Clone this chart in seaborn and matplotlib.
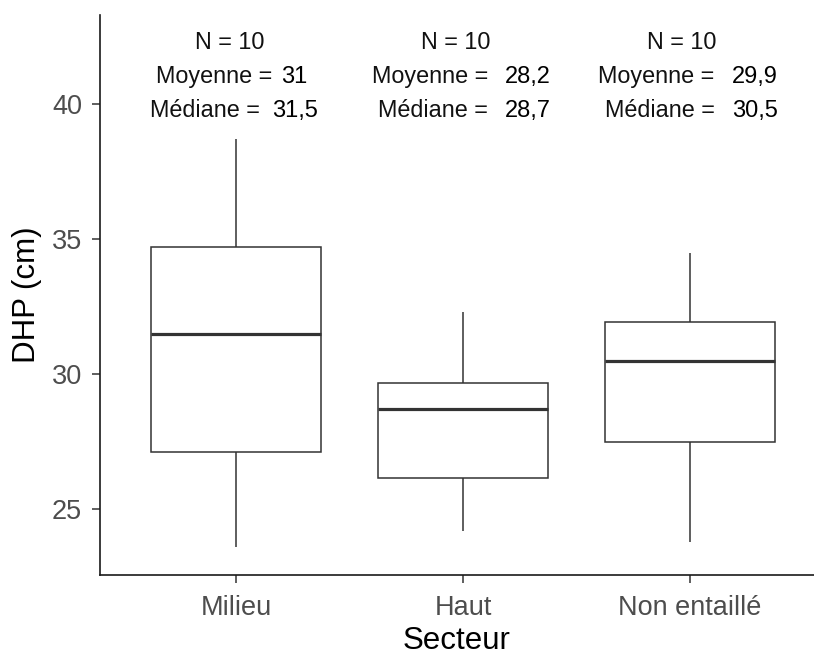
import numpy as np
import pandas as pd
import seaborn as sns
import matplotlib
matplotlib.use("Agg")
import matplotlib.pyplot as plt

# Diamètre à hauteur de poitrine (cm) par secteur d'entaille
secteurs = ["Milieu", "Haut", "Non entaillé"]
dhp_milieu = [23.6, 25.0, 26.8, 28.0, 31.0, 32.0, 34.4, 34.8, 35.7, 38.7]
dhp_haut = [24.2, 25.5, 26.0, 26.6, 28.4, 29.0, 29.6, 29.7, 30.7, 32.3]
dhp_non_entaille = [23.8, 27.0, 27.3, 28.1, 30.2, 30.8, 31.7, 32.0, 33.6, 34.5]

df = pd.DataFrame({
    "Secteur": np.repeat(secteurs, 10),
    "DHP": dhp_milieu + dhp_haut + dhp_non_entaille,
})

sns.set_theme(style="ticks")
plt.rcParams["font.family"] = ["Liberation Sans", "DejaVu Sans"]

fig = plt.figure(figsize=(8.14, 6.56), dpi=100)
ax = fig.add_axes([100 / 814, 81 / 656, 714 / 814, 560 / 656])

sns.boxplot(
    data=df, x="Secteur", y="DHP", order=secteurs, ax=ax,
    width=0.75, color="white", linecolor="#333333", linewidth=1.1,
    showcaps=False, whis=1.5, fliersize=4,
    medianprops=dict(linewidth=2.3, color="#333333"),
)

# Résumé statistique au-dessus de chaque boîte
def fr(v):
    s = f"{v:.1f}".replace(".", ",")
    return s[:-2] if s.endswith(",0") else s

lab_kw = dict(fontsize=16.8, color="#111111", va="center")
num_kw = dict(fontsize=17, color="black", va="center")
y_n, y_moy, y_med = 42.3, 41.02, 39.75
# décalages horizontaux : N, fin « Moyenne = », valeur, fin « Médiane = », valeur
offsets = {
    "Milieu": (-0.028, 0.161, 0.200, 0.104, 0.158),
    "Haut": (-0.033, 0.109, 0.186, 0.109, 0.186),
    "Non entaillé": (-0.035, 0.108, 0.186, 0.108, 0.186),
}
for i, s in enumerate(secteurs):
    vals = df.loc[df["Secteur"] == s, "DHP"]
    n = len(vals)
    moy = round(vals.mean(), 1)
    med = round(vals.median(), 1)
    dn, moy_r, moy_l, med_r, med_l = offsets[s]
    ax.text(i + dn, y_n, f"N = {n}", ha="center", **lab_kw)
    ax.text(i + moy_r, y_moy, "Moyenne =", ha="right", **lab_kw)
    ax.text(i + moy_l, y_moy, fr(moy), ha="left", **num_kw)
    ax.text(i + med_r, y_med, "Médiane =", ha="right", **lab_kw)
    ax.text(i + med_l, y_med, fr(med), ha="left", **num_kw)

ax.set_xlim(-0.6, 2.546)
ax.set_ylim(22.56, 43.30)
ax.set_yticks([25, 30, 35, 40])

ax.set_xlabel("Secteur", fontsize=22.5, color="black", labelpad=3.5)
ax.set_ylabel("DHP (cm)", fontsize=22.5, color="black", labelpad=7)
ax.tick_params(axis="both", colors="#333333", labelcolor="#4D4D4D",
               length=5.5, width=1.1, labelsize=19.5)
ax.tick_params(axis="x", pad=9)
ax.tick_params(axis="y", pad=7.5)

sns.despine(ax=ax)
for side in ("left", "bottom"):
    ax.spines[side].set_color("#1a1a1a")
    ax.spines[side].set_linewidth(1.2)

fig.savefig("out.png", dpi=100, facecolor="white")
